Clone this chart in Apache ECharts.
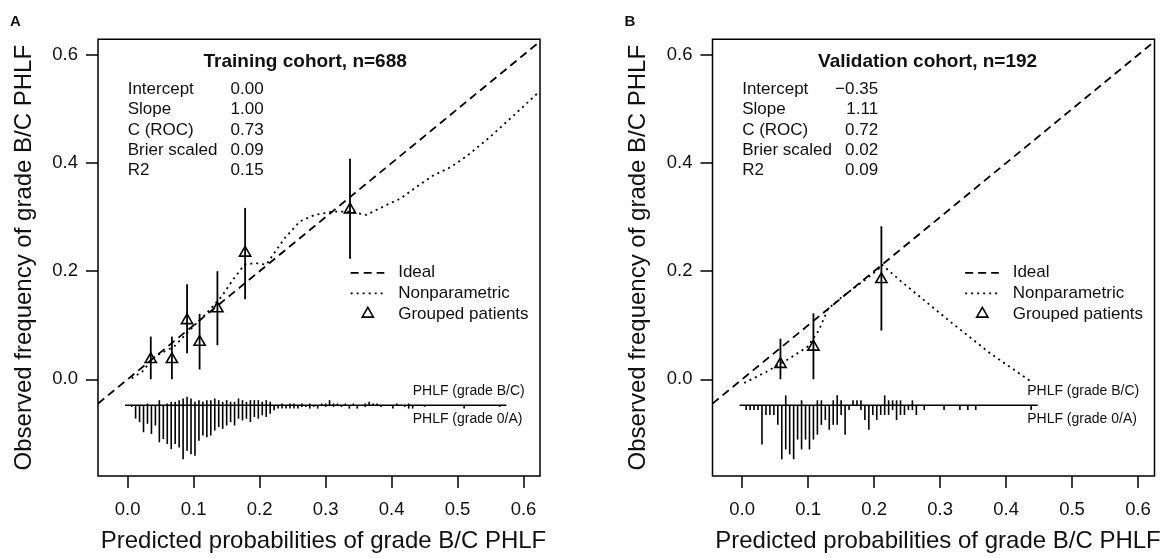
<!DOCTYPE html>
<html><head><meta charset="utf-8">
<script src="https://cdn.jsdelivr.net/npm/echarts@6/dist/echarts.min.js"></script>
<style>html,body{margin:0;padding:0;background:#fff}#c{width:1165px;height:558px}</style>
</head><body><div id="c"></div>
<script>
// ---------------- data ----------------
const xTicks = [0, 0.1, 0.2, 0.3, 0.4, 0.5, 0.6];
const yTicks = [0, 0.2, 0.4, 0.6];
const panelLetters = ['A', 'B'];
const panelTitles = ['Training cohort, n=688', 'Validation cohort, n=192'];
const statLabels = ['Intercept', 'Slope', 'C (ROC)', 'Brier scaled', 'R2'];
const statsA = ['0.00', '1.00', '0.73', '0.09', '0.15'];
const statsB = ['\u22120.35', '1.11', '0.72', '0.02', '0.09'];
const legendLabels = ['Ideal', 'Nonparametric', 'Grouped patients'];
const histLabels = ['PHLF (grade B/C)', 'PHLF (grade 0/A)'];
const xTitle = 'Predicted probabilities of grade B/C PHLF';
const yTitle = 'Observed frequency of grade B/C PHLF';

// grouped patients: [mean predicted, observed, CI low, CI high]
const groupedA = [[0.035,0.037,0.000,0.079],[0.067,0.037,0.000,0.079],[0.090,0.109,0.048,0.176],
  [0.109,0.069,0.018,0.121],[0.136,0.131,0.063,0.200],[0.178,0.234,0.148,0.317],[0.337,0.314,0.223,0.408]];
const groupedB = [[0.058,0.028,0.000,0.075],[0.108,0.060,0.000,0.122],[0.211,0.185,0.090,0.283]];

// nonparametric calibration curves: [predicted, observed]
const nonparA = [[0.006,0.002],[0.022,0.014],[0.042,0.043],[0.070,0.060],[0.098,0.096],[0.121,0.124],
  [0.143,0.154],[0.160,0.185],[0.177,0.212],[0.193,0.215],[0.210,0.212],[0.238,0.261],[0.261,0.292],
  [0.283,0.304],[0.311,0.310],[0.339,0.310],[0.362,0.304],[0.388,0.320],[0.413,0.334],[0.438,0.356],
  [0.463,0.377],[0.489,0.392],[0.514,0.413],[0.534,0.433],[0.549,0.448],[0.585,0.488],[0.622,0.530]];
const nonparB = [[0.003,-0.007],[0.037,0.014],[0.071,0.038],[0.099,0.060],[0.116,0.090],[0.130,0.130],
  [0.150,0.151],[0.184,0.182],[0.206,0.203],[0.212,0.212],[0.240,0.182],[0.319,0.103],[0.376,0.048],[0.440,-0.006]];

// risk distribution: [predicted bin, count]
const spikesA_BC = [[0.030,1],[0.048,3],[0.060,1],[0.066,2],[0.072,2],[0.078,3],[0.084,4],[0.090,5],[0.096,4],
  [0.102,2],[0.108,3],[0.114,2],[0.120,3],[0.126,3],[0.132,4],[0.138,3],[0.144,2],[0.150,3],[0.156,2],[0.162,2],
  [0.168,4],[0.174,3],[0.180,2],[0.186,3],[0.192,3],[0.198,3],[0.204,2],[0.210,3],[0.216,2],[0.234,1],[0.246,1],
  [0.252,1],[0.264,1],[0.276,1],[0.294,1],[0.300,1],[0.306,3],[0.312,1],[0.318,1],[0.330,1],[0.342,1],[0.360,1],
  [0.366,2],[0.372,1],[0.378,1],[0.408,1],[0.426,1]];
const spikesA_0A = [[0.006,1],[0.012,8],[0.018,10],[0.024,16],[0.030,11],[0.036,17],[0.042,12],[0.048,22],[0.054,20],
  [0.060,23],[0.066,26],[0.072,23],[0.078,25],[0.084,32],[0.090,27],[0.096,29],[0.102,30],[0.108,21],[0.114,18],
  [0.120,19],[0.126,18],[0.132,15],[0.138,13],[0.144,14],[0.150,12],[0.156,10],[0.162,12],[0.168,8],[0.174,9],
  [0.180,8],[0.186,10],[0.192,7],[0.198,8],[0.204,6],[0.210,7],[0.216,5],[0.222,3],[0.228,2],[0.234,2],[0.240,2],
  [0.246,2],[0.252,2],[0.258,2],[0.264,1],[0.270,1],[0.276,2],[0.282,1],[0.288,2],[0.300,1],[0.312,1],[0.324,1],
  [0.336,2],[0.348,2],[0.360,1],[0.384,1],[0.402,2],[0.420,1],[0.426,2],[0.432,2],[0.450,1],[0.510,2],[0.564,1]];
const spikesB_BC = [[0.066,2],[0.090,1],[0.114,1],[0.120,1],[0.138,1],[0.144,2],[0.150,1],[0.168,1],[0.174,1],
  [0.180,1],[0.216,2],[0.222,1],[0.228,1],[0.234,1],[0.240,1],[0.258,1]];
const spikesB_0A = [[0.006,1],[0.012,1],[0.018,1],[0.024,1],[0.030,8],[0.036,2],[0.042,2],[0.048,2],[0.054,4],
  [0.060,11],[0.066,9],[0.072,10],[0.078,11],[0.084,7],[0.090,9],[0.096,7],[0.102,9],[0.108,7],[0.114,6],[0.120,4],
  [0.126,3],[0.132,5],[0.138,4],[0.144,4],[0.150,2],[0.156,6],[0.162,1],[0.180,1],[0.186,3],[0.192,5],[0.198,2],
  [0.204,3],[0.210,2],[0.216,2],[0.222,2],[0.228,1],[0.234,3],[0.240,2],[0.246,2],[0.252,1],[0.258,1],[0.264,2],
  [0.276,1],[0.306,1],[0.330,1],[0.342,1],[0.354,1],[0.438,1]];

// ---------------- layout / style ----------------
const FONT = '"Liberation Sans", Arial, Helvetica, sans-serif';
const INK = '#111';
const X_MIN = -0.045, X_MAX = 0.625, Y_MIN = -0.179, Y_MAX = 0.629;
const HIST_BASE = -0.048, HIST_LEN = 0.1;
const GRID_LEFT = [98, 712.5], GRID_TOP = 39.3, GRID_W = 442, GRID_H = 441.4;
const LW = 1.8;

const panels = [
  {stats: statsA, grouped: groupedA, nonpar: nonparA, up: spikesA_BC, down: spikesA_0A},
  {stats: statsB, grouped: groupedB, nonpar: nonparB, up: spikesB_BC, down: spikesB_0A}
];

function triangle(c) {
  return {type: 'polygon', shape: {points: [[c[0], c[1] - 6.4], [c[0] + 5.6, c[1] + 3.3], [c[0] - 5.6, c[1] + 3.3]]},
    style: {fill: 'none', stroke: '#000', lineWidth: 1.6}};
}

const grids = [], xAxes = [], yAxes = [], series = [];
panels.forEach((P, p) => {
  grids.push({left: GRID_LEFT[p], top: GRID_TOP, width: GRID_W, height: GRID_H, show: true,
    borderColor: '#000', borderWidth: 1.5, backgroundColor: 'transparent'});
  xAxes.push({type: 'value', gridIndex: p, position: 'bottom', min: X_MIN, max: X_MAX, splitLine: {show: false},
    axisLine: {show: false, onZero: false},
    axisTick: {show: true, inside: false, customValues: xTicks, length: 12, lineStyle: {color: '#000', width: 1.5}},
    axisLabel: {customValues: xTicks, formatter: v => v.toFixed(1), fontSize: 18.5, color: INK, fontFamily: FONT, margin: 24},
    name: xTitle, nameLocation: 'middle', nameGap: 53,
    nameTextStyle: {fontSize: 24, color: INK, fontFamily: FONT, padding: [0, 0, 0, 9]}});
  yAxes.push({type: 'value', gridIndex: p, position: 'left', min: Y_MIN, max: Y_MAX, splitLine: {show: false},
    axisLine: {show: false, onZero: false},
    axisTick: {show: true, inside: false, customValues: yTicks, length: 12, lineStyle: {color: '#000', width: 1.5}},
    axisLabel: {customValues: yTicks, formatter: v => v.toFixed(1), fontSize: 18.5, color: INK, fontFamily: FONT, margin: 20},
    name: yTitle, nameLocation: 'middle', nameGap: 62, nameRotate: 90,
    nameTextStyle: {fontSize: 24, color: INK, fontFamily: FONT}});

  const ax = {xAxisIndex: p, yAxisIndex: p, silent: true, animation: false};
  // ideal
  series.push(Object.assign({type: 'line', data: [[X_MIN, X_MIN], [X_MAX, X_MAX]], symbol: 'none',
    lineStyle: {color: '#000', width: LW, type: [8, 5]}}, ax));
  // nonparametric
  series.push(Object.assign({type: 'line', data: P.nonpar, symbol: 'none',
    lineStyle: {color: '#000', width: LW, type: [2, 4]}}, ax));
  // error bars
  series.push(Object.assign({type: 'custom', data: P.grouped, encode: {x: 0, y: 1},
    renderItem: (params, api) => {
      const a = api.coord([api.value(0), api.value(2)]), b = api.coord([api.value(0), api.value(3)]);
      return {type: 'line', shape: {x1: a[0], y1: a[1], x2: b[0], y2: b[1]}, style: {stroke: '#000', lineWidth: LW}};
    }}, ax));
  // triangles
  series.push(Object.assign({type: 'custom', data: P.grouped, encode: {x: 0, y: 1}, z: 5,
    renderItem: (params, api) => triangle(api.coord([api.value(0), api.value(1)]))}, ax));
  // risk distribution spikes
  const maxf = Math.max(...P.up.map(d => d[1]), ...P.down.map(d => d[1]));
  [[P.up, 1], [P.down, -1]].forEach(([arr, dir]) => {
    series.push(Object.assign({type: 'custom', data: arr, clip: false,
      renderItem: (params, api) => {
        const x = api.value(0), f = api.value(1);
        const a = api.coord([x, HIST_BASE]), b = api.coord([x, HIST_BASE + dir * HIST_LEN * f / maxf]);
        return {type: 'line', shape: {x1: a[0], y1: a[1], x2: b[0], y2: b[1]}, style: {stroke: '#000', lineWidth: 1.6}};
      }}, ax));
  });
  const allBins = P.up.concat(P.down).map(d => d[0]);
  series.push(Object.assign({type: 'line', symbol: 'none',
    data: [[Math.min(...allBins) - 0.01, HIST_BASE], [Math.max(...allBins) + 0.01, HIST_BASE]],
    lineStyle: {color: '#000', width: 1.5}}, ax));
  // annotations
  series.push(Object.assign({type: 'custom', data: [[0, 0]], clip: false, z: 10,
    renderItem: (params, api) => {
      const ch = [];
      const txt = (x, y, text, font, align) => {
        const c = api.coord([x, y]);
        ch.push({type: 'text', x: c[0], y: c[1], style: {text: text, font: font, fill: INK, align: align || 'left', verticalAlign: 'middle'}});
      };
      const f17 = '17px ' + FONT;
      txt(0.115, 0.587, panelTitles[p], 'bold 19px ' + FONT, 'left');
      statLabels.forEach((s, i) => {
        const y = 0.537 - i * 0.0378;
        txt(0.0, y, s, f17, 'left');
        txt(0.206, y, P.stats[i], f17, 'right');
      });
      const ly = [0.197, 0.159, 0.121];
      const l0 = api.coord([0.338, ly[0]]), l1 = api.coord([0.389, ly[0]]);
      ch.push({type: 'line', shape: {x1: l0[0], y1: l0[1], x2: l1[0], y2: l1[1]}, style: {stroke: '#000', lineWidth: LW, lineDash: [8, 5]}});
      const m0 = api.coord([0.338, ly[1]]), m1 = api.coord([0.389, ly[1]]);
      ch.push({type: 'line', shape: {x1: m0[0], y1: m0[1], x2: m1[0], y2: m1[1]}, style: {stroke: '#000', lineWidth: LW, lineDash: [2, 4]}});
      ch.push(triangle(api.coord([0.364, ly[2]])));
      legendLabels.forEach((s, i) => txt(0.410, ly[i], s, f17, 'left'));
      txt(0.432, -0.022, histLabels[0], '14px ' + FONT, 'left');
      txt(0.432, -0.073, histLabels[1], '14px ' + FONT, 'left');
      return {type: 'group', children: ch};
    }}, ax));
});

const chart = echarts.init(document.getElementById('c'), null, {renderer: 'canvas'});
chart.setOption({
  animation: false,
  backgroundColor: '#fff',
  textStyle: {fontFamily: FONT},
  grid: grids, xAxis: xAxes, yAxis: yAxes, series: series,
  graphic: panelLetters.map((L, p) => ({type: 'text', left: GRID_LEFT[p] - 88, top: 14,
    style: {text: L, font: 'bold 15px ' + FONT, fill: INK}}))
});
</script></body></html>
